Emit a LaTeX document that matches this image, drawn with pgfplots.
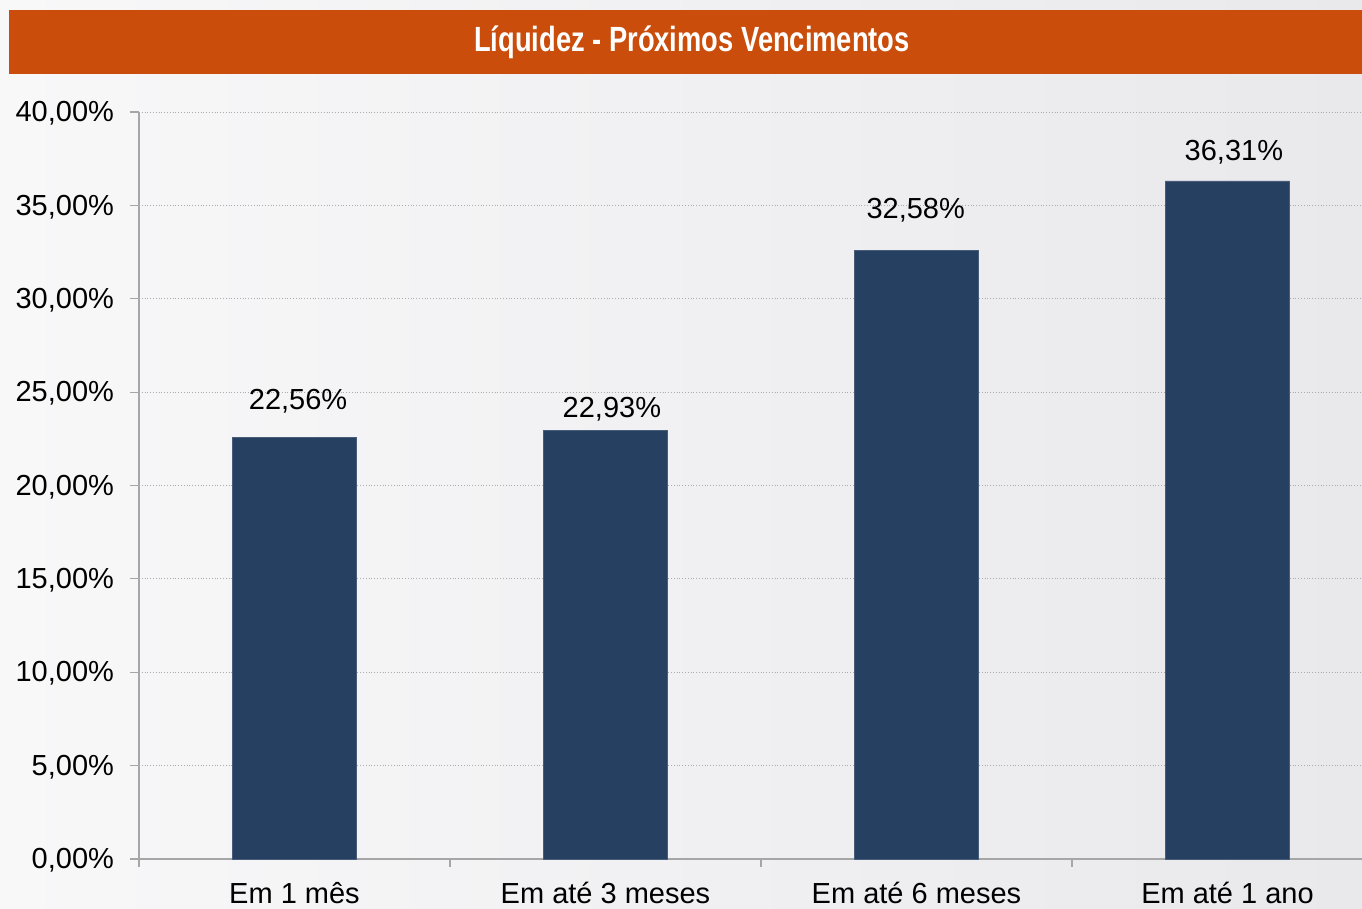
\documentclass[border=0pt]{standalone}
\usepackage{graphicx}
\usepackage{pgfplots}
\pgfplotsset{compat=1.18}
\usepackage{fontspec}
\setmainfont{Liberation Sans}
\definecolor{banner}{HTML}{CA4D0B}
\definecolor{barblue}{HTML}{264061}
\definecolor{axgray}{HTML}{A6A6A6}
\definecolor{bgleft}{HTML}{F8F8F9}
\definecolor{bgright}{HTML}{E9E9EC}
\begin{document}
\fontsize{14.5}{17}\selectfont
\begin{tikzpicture}
\useasboundingbox (0,0) rectangle (681pt,454.5pt);
\clip (0,0) rectangle (681pt,454.5pt);
\shade[left color=bgleft, right color=bgright] (0,0) rectangle (681pt,454.5pt);
\fill[banner] (4.5pt,417.5pt) rectangle (690pt,449.5pt);
\node[text=white, font=\bfseries\fontsize{17.5}{20}\selectfont, inner sep=0pt] at (346pt,433.5pt) {\scalebox{0.78}[1]{Líquidez - Próximos Vencimentos}};
\begin{axis}[
  at={(69.5pt,25pt)}, anchor=south west,
  scale only axis, width=622pt, height=373.5pt,
  xmin=-0.5, xmax=3.5, ymin=0, ymax=40,
  ybar, bar width=0.4,
  axis x line*=bottom, axis y line*=left,
  axis line style={axgray, line width=0.6pt},
  tick align=outside,
  tick style={axgray, line width=0.6pt},
  major tick length=4.5pt, minor tick length=4pt,
  /pgf/number format/assume math mode=true,
  ytick={0,5,...,40},
  yticklabel={\pgfmathprintnumber[use comma,fixed,fixed zerofill,precision=2]{\tick}\%},
  yticklabel style={xshift=-3pt, yshift=-0.7pt},
  ymajorgrids,
  major grid style={densely dotted, gray!65, line width=0.4pt},
  xtick={0,1,2,3},
  xticklabels={Em 1 mês, Em até 3 meses, Em até 6 meses, Em até 1 ano},
  xticklabel style={yshift=-2pt},
  major x tick style={draw=none},
  minor xtick={-0.5,0.5,1.5,2.5,3.5},
  visualization depends on={value \coordindex \as \idx},
  nodes near coords={\pgfmathprintnumber[use comma,fixed,fixed zerofill,precision=2]{\pgfplotspointmeta}\%},
  nodes near coords style={anchor=base, text=black,
    xshift={{1.8,3.2,-0.4,3.2}[\idx]*1pt},
    yshift={{14.2,6.8,15.8,10.2}[\idx]*1pt}},
  clip=false,
]
\addplot[fill=barblue, draw=barblue!85!white, line width=0.3pt] coordinates {(0,22.56) (1,22.93) (2,32.58) (3,36.31)};
\end{axis}
\end{tikzpicture}
\end{document}
